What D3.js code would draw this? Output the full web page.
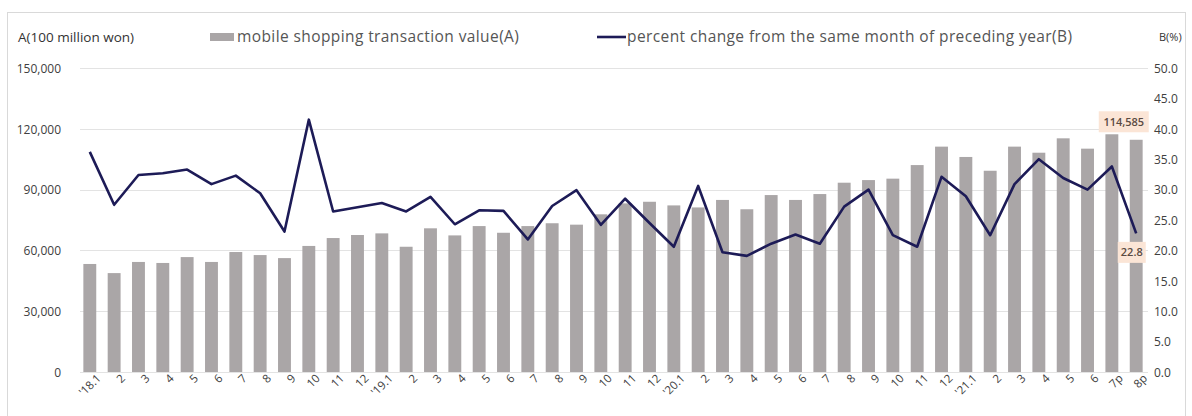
<!DOCTYPE html>
<html>
<head>
<meta charset="utf-8">
<script src="https://cdn.jsdelivr.net/npm/d3@7"></script>
<style>
  body { margin: 0; background: #fff; }
  text { font-family: "Open Sans", sans-serif; }
</style>
</head>
<body>
<script>
const width = 1192;
const height = 416;

const months = ["'18.1","2","3","4","5","6","7","8","9","10","11","12",
  "'19.1","2","3","4","5","6","7","8","9","10","11","12",
  "'20.1","2","3","4","5","6","7","8","9","10","11","12",
  "'21.1","2","3","4","5","6","7p","8p"];

// A: mobile shopping transaction value (100 million won)
const valueA = [53300, 48800, 54300, 53800, 56700, 54300, 59200, 57700, 56200, 62200, 66100, 67600,
  68400, 61800, 70900, 67400, 72000, 68700, 72000, 73400, 72700, 77800, 83200, 84000,
  82200, 81200, 84900, 80300, 87300, 84900, 87800, 93400, 94700, 95400, 102100, 111200,
  106100, 99300, 111200, 108200, 115300, 110200, 117300, 114585];

// B: percent change from same month of preceding year
const valueB = [36.2, 27.5, 32.4, 32.7, 33.3, 30.9, 32.3, 29.4, 23.1, 41.5, 26.4, 27.1,
  27.8, 26.4, 28.8, 24.3, 26.6, 26.5, 21.8, 27.3, 29.9, 24.2, 28.5, 24.5,
  20.6, 30.6, 19.7, 19.1, 21.1, 22.6, 21.1, 27.2, 30.0, 22.5, 20.6, 32.1,
  28.9, 22.5, 30.9, 35.0, 31.9, 30.0, 33.8, 22.8];

const leftTicks = [0, 30000, 60000, 90000, 120000, 150000];
const rightTicks = [0, 5, 10, 15, 20, 25, 30, 35, 40, 45, 50];

const margin = { top: 68, right: 44, bottom: 44, left: 78 };
const plotW = width - margin.left - margin.right;
const plotH = height - margin.top - margin.bottom;

const svg = d3.select("body")
  .append("svg")
  .attr("width", width)
  .attr("height", height);

svg.append("rect")
  .attr("width", width)
  .attr("height", height)
  .attr("fill", "#fff");

// light frame around the chart
svg.append("rect")
  .attr("x", 7.5)
  .attr("y", 12.5)
  .attr("width", 1178)
  .attr("height", 420)
  .attr("fill", "none")
  .attr("stroke", "#d9d9d9");

const x = d3.scaleBand()
  .domain(d3.range(months.length))
  .range([margin.left, margin.left + plotW])
  .paddingInner(0.47)
  .paddingOuter(0.22);

const yA = d3.scaleLinear().domain([0, 150000]).range([margin.top + plotH, margin.top]);
const yB = d3.scaleLinear().domain([0, 50]).range([margin.top + plotH, margin.top]);

// gridlines
svg.append("g")
  .selectAll("line")
  .data(leftTicks)
  .join("line")
  .attr("x1", margin.left + 2)
  .attr("x2", margin.left + plotW)
  .attr("y1", d => Math.round(yA(d)) + 0.5)
  .attr("y2", d => Math.round(yA(d)) + 0.5)
  .attr("stroke", "#e3e3e3")
  .attr("stroke-width", 1);

// left axis
const leftAxis = svg.append("g")
  .attr("transform", `translate(${margin.left - 14},0)`)
  .call(d3.axisLeft(yA).tickValues(leftTicks).tickSize(0).tickFormat(d3.format(",")));
leftAxis.select(".domain").remove();
leftAxis.selectAll("text")
  .attr("font-size", 12)
  .attr("fill", "#404040")
  .attr("dy", "0.35em");

// right axis
const rightAxis = svg.append("g")
  .attr("transform", `translate(${margin.left + plotW + 3},0)`)
  .call(d3.axisRight(yB).tickValues(rightTicks).tickSize(0).tickFormat(d3.format(".1f")));
rightAxis.select(".domain").remove();
rightAxis.selectAll("text")
  .attr("font-size", 12)
  .attr("fill", "#404040")
  .attr("dy", "0.35em");

// bars
svg.append("g")
  .selectAll("rect")
  .data(valueA)
  .join("rect")
  .attr("x", (d, i) => x(i))
  .attr("width", x.bandwidth())
  .attr("y", d => yA(d))
  .attr("height", d => yA(0) - yA(d))
  .attr("fill", "#aaa6a7");

// line
const line = d3.line()
  .x((d, i) => x(i) + x.bandwidth() / 2)
  .y(d => yB(d));

svg.append("path")
  .datum(valueB)
  .attr("d", line)
  .attr("fill", "none")
  .attr("stroke", "#1d1b57")
  .attr("stroke-width", 2.6)
  .attr("stroke-linejoin", "round");

// x axis labels
const xAxis = svg.append("g")
  .attr("transform", `translate(0,${margin.top + plotH})`)
  .call(d3.axisBottom(x).tickSize(0).tickFormat(i => months[i]));
xAxis.select(".domain").remove();
xAxis.selectAll("text")
  .attr("font-size", 11.5)
  .attr("fill", "#404040")
  .attr("text-anchor", "end")
  .attr("dx", "0.3em")
  .attr("dy", "0.9em")
  .attr("transform", "rotate(-45)");

// annotations on the last point
const last = months.length - 1;
function callout(label, cx, cy, w) {
  const g = svg.append("g");
  g.append("rect")
    .attr("x", cx - w / 2)
    .attr("y", cy - 10.5)
    .attr("width", w)
    .attr("height", 21)
    .attr("fill", "#fbe5d6");
  g.append("text")
    .attr("x", cx)
    .attr("y", cy)
    .attr("dy", "0.35em")
    .attr("text-anchor", "middle")
    .attr("font-size", 11)
    .attr("font-weight", 600)
    .attr("fill", "#5a4a42")
    .text(label);
}
callout(d3.format(",")(valueA[last]), x(last) - 6, yA(valueA[last]) - 18, 50);
callout(valueB[last].toFixed(1), x(last) + 2, yB(valueB[last]) + 19, 28);

// axis titles
svg.append("text")
  .attr("x", 18)
  .attr("y", 37)
  .attr("dy", "0.35em")
  .attr("font-size", 13.5)
  .attr("fill", "#333")
  .text("A(100 million won)");

svg.append("text")
  .attr("x", 1159)
  .attr("y", 37)
  .attr("dy", "0.35em")
  .attr("font-size", 11)
  .attr("fill", "#333")
  .text("B(%)");

// legend
svg.append("rect")
  .attr("x", 210)
  .attr("y", 33)
  .attr("width", 24)
  .attr("height", 8)
  .attr("fill", "#aaa6a7");
svg.append("text")
  .attr("x", 237)
  .attr("y", 37)
  .attr("dy", "0.35em")
  .attr("font-size", 15.5)
  .attr("letter-spacing", "0.4")
  .attr("fill", "#555")
  .text("mobile shopping transaction value(A)");

svg.append("line")
  .attr("x1", 597)
  .attr("x2", 626)
  .attr("y1", 37)
  .attr("y2", 37)
  .attr("stroke", "#1d1b57")
  .attr("stroke-width", 2.6);
svg.append("text")
  .attr("x", 627)
  .attr("y", 37)
  .attr("dy", "0.35em")
  .attr("font-size", 15.5)
  .attr("letter-spacing", "0.4")
  .attr("fill", "#555")
  .text("percent change from the same month of preceding year(B)");
</script>
</body>
</html>
